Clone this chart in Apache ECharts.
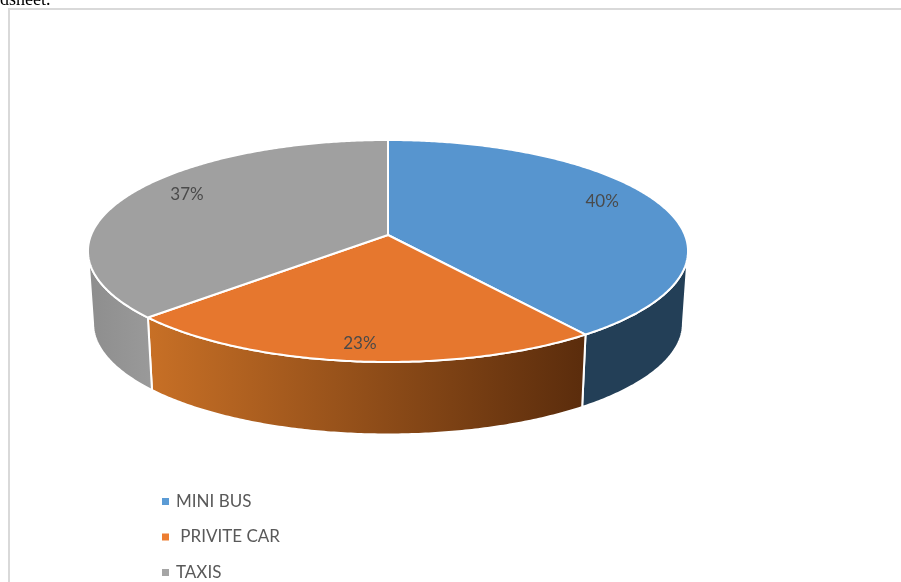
<!DOCTYPE html>
<html>
<head>
<meta charset="utf-8">
<style>html,body{margin:0;padding:0;background:#fff;overflow:hidden}#chart{width:901px;height:582px}</style>
<script src="https://cdn.jsdelivr.net/npm/echarts@6/dist/echarts.min.js"></script>
</head>
<body>
<div id="chart"></div>
<script>
// Share of trips per vehicle type, in percent
const categories = ['MINI BUS', ' PRIVITE CAR', 'TAXIS'];
const shares = [40, 23, 37];

// Disc appearance, one entry per category
const topColors = ['#5795cf', '#e6772e', '#a0a0a0'];
const legendColors = ['#5b9bd5', '#ed7d31', '#a5a5a5'];
const wallStops = [
  ['#233f57', '#233f57'],
  ['#c87026', '#5a2c0c'],
  ['#8d8d8d', '#9a9a9a']
];
const labelPlacement = [
  { r: 0.785, lift: 8 },
  { r: 0.88, lift: 0 },
  { r: 0.77, lift: 9 }
];

// Perspective projection of the disc
const CX = 388, CY = 235, RX = 296.9, RY = 108.7, TILT = 0.144;
const DEPTH = 72.5, BASE_SCALE = 0.983;

function project(r, theta) {
  const s = Math.sin(theta), c = Math.cos(theta), d = 1 + TILT * r * c;
  return [RX * r * s / d, -RY * r * c / d];
}
function rimTop(theta) {
  const p = project(1, theta);
  return [CX + p[0], CY + p[1]];
}
function rimBase(theta) {
  const p = project(1, theta);
  return [CX + p[0] * BASE_SCALE, CY + p[1] + DEPTH];
}
function sample(from, to, fn) {
  const n = Math.max(2, Math.ceil(Math.abs(to - from) / 0.01));
  const pts = [];
  for (let i = 0; i <= n; i++) pts.push(fn(from + (to - from) * i / n));
  return pts;
}

// The wall is only visible on the near side of the silhouette
const NEAR_FROM = Math.acos(-TILT);
const NEAR_TO = 2 * Math.PI - NEAR_FROM;

function sliceRenderer(index) {
  return function (params, api) {
    const total = shares.reduce((a, b) => a + b, 0);
    const a0 = api.value(0) / total * 2 * Math.PI;
    const a1 = api.value(1) / total * 2 * Math.PI;
    const children = [];

    const w0 = Math.max(a0, NEAR_FROM), w1 = Math.min(a1, NEAR_TO);
    if (w1 > w0) {
      const wall = sample(w0, w1, rimTop).concat(sample(w1, w0, rimBase));
      children.push({
        type: 'polygon',
        z2: 1,
        shape: { points: wall },
        style: {
          fill: {
            type: 'linear', x: 0, y: 0, x2: 1, y2: 0,
            colorStops: [
              { offset: 0, color: wallStops[index][0] },
              { offset: 1, color: wallStops[index][1] }
            ]
          },
          stroke: '#fff', lineWidth: 2, lineJoin: 'round'
        }
      });
    }

    children.push({
      type: 'polygon',
      z2: 2,
      shape: { points: [[CX, CY]].concat(sample(a0, a1, rimTop)) },
      style: { fill: topColors[index], stroke: '#fff', lineWidth: 2, lineJoin: 'round' }
    });

    const mid = (a0 + a1) / 2;
    const place = labelPlacement[index];
    const at = project(place.r, mid);
    children.push({
      type: 'text',
      z2: 3,
      style: {
        x: CX + at[0],
        y: CY + at[1] - place.lift,
        text: Math.round(api.value(1) - api.value(0)) + '%',
        fill: '#4a4a4a',
        font: '17px Lato',
        align: 'center',
        verticalAlign: 'middle'
      }
    });
    return { type: 'group', children: children };
  };
}

let running = 0;
const series = categories.map((name, i) => {
  const start = running;
  running += shares[i];
  return {
    type: 'custom',
    name: name,
    coordinateSystem: 'none',
    silent: true,
    itemStyle: { color: legendColors[i] },
    renderItem: sliceRenderer(i),
    data: [[start, running]]
  };
});

const chart = echarts.init(document.getElementById('chart'), null, { renderer: 'canvas' });
chart.setOption({
  animation: false,
  backgroundColor: '#fff',
  color: legendColors,
  graphic: [
    {
      type: 'rect', silent: true, z: -1,
      shape: { x: 9, y: 9, width: 1000, height: 700 },
      style: { fill: 'none', stroke: '#d9d9d9', lineWidth: 2 }
    },
    {
      type: 'text', silent: true, left: 0, top: -9,
      style: { text: 'dsheet.', fill: '#000', font: '18px "Liberation Serif"' }
    }
  ],
  legend: {
    orient: 'vertical',
    left: 162,
    top: 493,
    icon: 'rect',
    itemWidth: 7,
    itemHeight: 7,
    itemGap: 18.5,
    padding: 0,
    selectedMode: false,
    data: categories,
    textStyle: { color: '#595959', fontFamily: 'Lato', fontSize: 17, padding: [0, 0, 0, 2] }
  },
  series: series
});
</script>
</body>
</html>
